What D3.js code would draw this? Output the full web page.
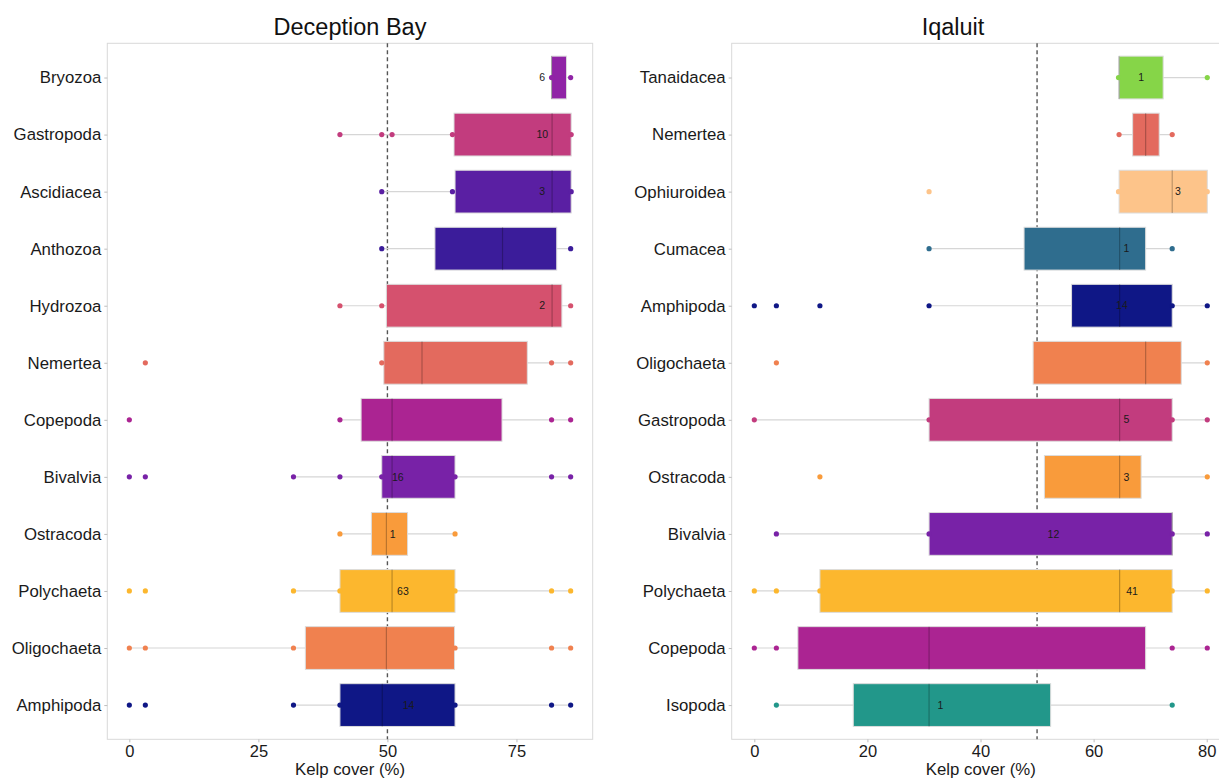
<!DOCTYPE html>
<html>
<head>
<meta charset="utf-8">
<script src="https://cdn.jsdelivr.net/npm/d3@7"></script>
<style>
  body { margin: 0; background: #fff; }
  svg { font-family: "Liberation Sans", Arial, sans-serif; }
</style>
</head>
<body>
<div id="d3-container"></div>
<script>
const width = 1219,
  height = 780;

// ---- Deception Bay ----
const dbTaxa = ["Bryozoa", "Gastropoda", "Ascidiacea", "Anthozoa", "Hydrozoa", "Nemertea",
  "Copepoda", "Bivalvia", "Ostracoda", "Polychaeta", "Oligochaeta", "Amphipoda"];
const dbQ1 = [81.8, 62.9, 63.1, 59.2, 49.8, 49.3, 44.9, 48.9, 46.9, 40.8, 34.1, 40.8];
const dbMedian = [81.8, 81.9, 81.9, 72.3, 81.9, 56.7, 50.9, 50.9, 49.8, 50.9, 49.8, 49.0];
const dbQ3 = [84.7, 85.6, 85.6, 82.8, 83.8, 77.1, 72.2, 63.1, 53.9, 63.1, 63.0, 63.1];
const dbWhiskerLow = [81.8, 40.8, 48.9, 48.9, 40.8, 48.9, 40.8, 31.8, 40.8, 31.8, 0, 31.8];
const dbWhiskerHigh = [85.5, 85.5, 85.5, 85.5, 85.5, 85.5, 85.5, 85.5, 63.1, 85.5, 85.5, 85.5];
const dbPoints = [
  [81.8, 85.5],
  [40.8, 48.9, 50.9, 62.6, 85.6],
  [48.9, 62.6, 85.6],
  [48.9, 85.5],
  [40.8, 48.9, 85.5],
  [3.1, 48.9, 81.8, 85.5],
  [0, 40.8, 81.8, 85.5],
  [0, 3.1, 31.8, 40.8, 48.9, 63.1, 81.8, 85.5],
  [40.8, 63.1],
  [0, 3.1, 31.8, 40.8, 63.1, 81.8, 85.5],
  [0, 3.1, 31.8, 63.1, 81.8, 85.5],
  [0, 3.1, 31.8, 40.8, 63.1, 81.8, 85.5]
];
const dbCounts = ["6", "10", "3", "", "2", "", "", "16", "1", "63", "", "14"];
const dbCountAt = [80.0, 80.0, 80.0, null, 80.0, null, null, 52.0, 51.0, 53.0, null, 54.1];
const dbColors = ["#9024a6", "#c23c7e", "#5a1fa3", "#3b1c9a", "#d5516e", "#e36a5e",
  "#ab2492", "#7822a7", "#f99b3b", "#fcb72e", "#f0814f", "#0f1786"];
const dbTicks = [0, 25, 50, 75];

// ---- Iqaluit ----
const iqTaxa = ["Tanaidacea", "Nemertea", "Ophiuroidea", "Cumacea", "Amphipoda", "Oligochaeta",
  "Gastropoda", "Ostracoda", "Bivalvia", "Polychaeta", "Copepoda", "Isopoda"];
const iqQ1 = [64.5, 66.9, 64.5, 47.7, 56.1, 49.3, 30.9, 51.3, 30.9, 11.6, 7.7, 17.5];
const iqMedian = [64.5, 69.2, 73.9, 64.6, 64.6, 69.2, 64.6, 64.6, 73.9, 64.6, 30.9, 30.9];
const iqQ3 = [72.3, 71.6, 80.1, 69.2, 73.9, 75.5, 73.9, 68.4, 73.9, 73.9, 69.2, 52.4];
const iqWhiskerLow = [64.4, 64.5, 64.4, 30.9, 30.9, 49.3, 0, 51.3, 3.9, 0, 0, 3.9];
const iqWhiskerHigh = [80.1, 73.9, 80.1, 73.9, 80.1, 80.1, 80.1, 80.1, 80.1, 80.1, 80.1, 73.9];
const iqPoints = [
  [64.4, 80.1],
  [64.5, 73.9],
  [30.9, 64.4, 80.1],
  [30.9, 73.9],
  [0, 3.9, 11.6, 30.9, 73.9, 80.1],
  [3.9, 80.1],
  [0, 30.9, 73.9, 80.1],
  [11.6, 80.1],
  [3.9, 30.9, 73.9, 80.1],
  [0, 3.9, 11.6, 73.9, 80.1],
  [0, 3.9, 73.9, 80.1],
  [3.9, 73.9]
];
const iqCounts = ["1", "", "3", "1", "14", "", "5", "3", "12", "41", "", "1"];
const iqCountAt = [68.4, null, 74.9, 65.8, 65.0, null, 65.8, 65.8, 52.9, 66.8, null, 32.9];
const iqColors = ["#86d548", "#e36a5e", "#fdc48a", "#2f6d8e", "#0f1786", "#f0814f",
  "#c23c7e", "#f99b3b", "#7822a7", "#fcb72e", "#ab2492", "#22978a"];
const iqTicks = [0, 20, 40, 60, 80];

const refLine = 50;

const svg = d3
  .select("#d3-container")
  .append("svg")
  .attr("width", width)
  .attr("height", height);

function drawPanel(cfg) {
  const xScale = d3.scaleLinear().domain(cfg.domain).range(cfg.xRange);
  const yScale = d3.scalePoint().domain(cfg.taxa).range([43.3, 739.3]).padding(0.6);
  const boxH = yScale.step() * 0.75;

  const rows = cfg.taxa.map((t, i) => ({
    taxon: t,
    q1: cfg.q1[i],
    median: cfg.median[i],
    q3: cfg.q3[i],
    lo: cfg.lo[i],
    hi: cfg.hi[i],
    points: cfg.points[i],
    count: cfg.counts[i],
    countAt: cfg.countAt[i],
    color: cfg.colors[i],
  }));

  const g = svg.append("g");

  // panel border
  g.append("rect")
    .attr("x", cfg.xRange[0])
    .attr("y", 43.3)
    .attr("width", cfg.xRange[1] - cfg.xRange[0])
    .attr("height", 739.3 - 43.3)
    .attr("fill", "none")
    .attr("stroke", "#d9d9d9")
    .attr("stroke-width", 1);

  // axes
  const xAxis = d3.axisBottom(xScale).tickValues(cfg.ticks).tickSize(3).tickPadding(4);
  const gx = g.append("g")
    .attr("transform", `translate(0,739.3)`)
    .call(xAxis);
  gx.select(".domain").remove();
  gx.selectAll(".tick line").attr("stroke", "#bdbdbd");
  gx.selectAll(".tick text")
    .attr("fill", "#1a1a1a")
    .attr("font-size", 16.5)
    .attr("dy", "0.66em");

  const yAxis = d3.axisLeft(yScale).tickSize(3).tickPadding(3);
  const gy = g.append("g")
    .attr("transform", `translate(${cfg.xRange[0]},0)`)
    .call(yAxis);
  gy.select(".domain").remove();
  gy.selectAll(".tick line").attr("stroke", "#bdbdbd");
  gy.selectAll(".tick text")
    .attr("fill", "#1a1a1a")
    .attr("font-size", 16.8);

  // reference line (behind boxes)
  g.append("line")
    .attr("x1", xScale(refLine))
    .attr("x2", xScale(refLine))
    .attr("y1", 43.3)
    .attr("y2", 739.3)
    .attr("stroke", "#555")
    .attr("stroke-width", 1.4)
    .attr("stroke-dasharray", "4,3");

  // whiskers
  g.selectAll("line.whisker")
    .data(rows)
    .join("line")
    .attr("class", "whisker")
    .attr("x1", d => xScale(d.lo))
    .attr("x2", d => xScale(d.hi))
    .attr("y1", d => yScale(d.taxon))
    .attr("y2", d => yScale(d.taxon))
    .attr("stroke", "#d6d6d6")
    .attr("stroke-width", 1.2);

  // boxes
  g.selectAll("rect.box")
    .data(rows)
    .join("rect")
    .attr("class", "box")
    .attr("x", d => xScale(d.q1))
    .attr("width", d => xScale(d.q3) - xScale(d.q1))
    .attr("y", d => yScale(d.taxon) - boxH / 2)
    .attr("height", boxH)
    .attr("fill", d => d.color)
    .attr("stroke", "#dcdcdc")
    .attr("stroke-width", 1);

  // medians
  g.selectAll("line.median")
    .data(rows)
    .join("line")
    .attr("class", "median")
    .attr("x1", d => xScale(d.median))
    .attr("x2", d => xScale(d.median))
    .attr("y1", d => yScale(d.taxon) - boxH / 2)
    .attr("y2", d => yScale(d.taxon) + boxH / 2)
    .attr("stroke", "rgba(0,0,0,0.25)")
    .attr("stroke-width", 1.2);

  // points
  const pts = rows.flatMap(d => d.points.map(v => ({ taxon: d.taxon, v, color: d.color })));
  g.selectAll("circle.pt")
    .data(pts)
    .join("circle")
    .attr("class", "pt")
    .attr("cx", d => xScale(d.v))
    .attr("cy", d => yScale(d.taxon))
    .attr("r", 2.6)
    .attr("fill", d => d.color);

  // counts
  g.selectAll("text.count")
    .data(rows.filter(d => d.count !== ""))
    .join("text")
    .attr("class", "count")
    .attr("x", d => xScale(d.countAt))
    .attr("y", d => yScale(d.taxon))
    .attr("dy", "0.35em")
    .attr("text-anchor", "middle")
    .attr("font-size", 10.5)
    .attr("fill", "#1a1a1a")
    .text(d => d.count);

  // titles
  g.append("text")
    .attr("x", cfg.titleX)
    .attr("y", 35)
    .attr("text-anchor", "middle")
    .attr("font-size", 23.5)
    .attr("fill", "#111")
    .text(cfg.title);

  g.append("text")
    .attr("x", (cfg.xRange[0] + cfg.xRange[1]) / 2)
    .attr("y", 775)
    .attr("text-anchor", "middle")
    .attr("font-size", 16.8)
    .attr("fill", "#1a1a1a")
    .text("Kelp cover (%)");
}

drawPanel({
  title: "Deception Bay",
  titleX: 350,
  taxa: dbTaxa, q1: dbQ1, median: dbMedian, q3: dbQ3,
  lo: dbWhiskerLow, hi: dbWhiskerHigh, points: dbPoints,
  counts: dbCounts, countAt: dbCountAt, colors: dbColors, ticks: dbTicks,
  domain: [-4.27, 89.77],
  xRange: [107.3, 592.7],
});

drawPanel({
  title: "Iqaluit",
  titleX: 953,
  taxa: iqTaxa, q1: iqQ1, median: iqMedian, q3: iqQ3,
  lo: iqWhiskerLow, hi: iqWhiskerHigh, points: iqPoints,
  counts: iqCounts, countAt: iqCountAt, colors: iqColors, ticks: iqTicks,
  domain: [-4.0, 84.1],
  xRange: [731.7, 1229.9],
});
</script>
</body>
</html>
